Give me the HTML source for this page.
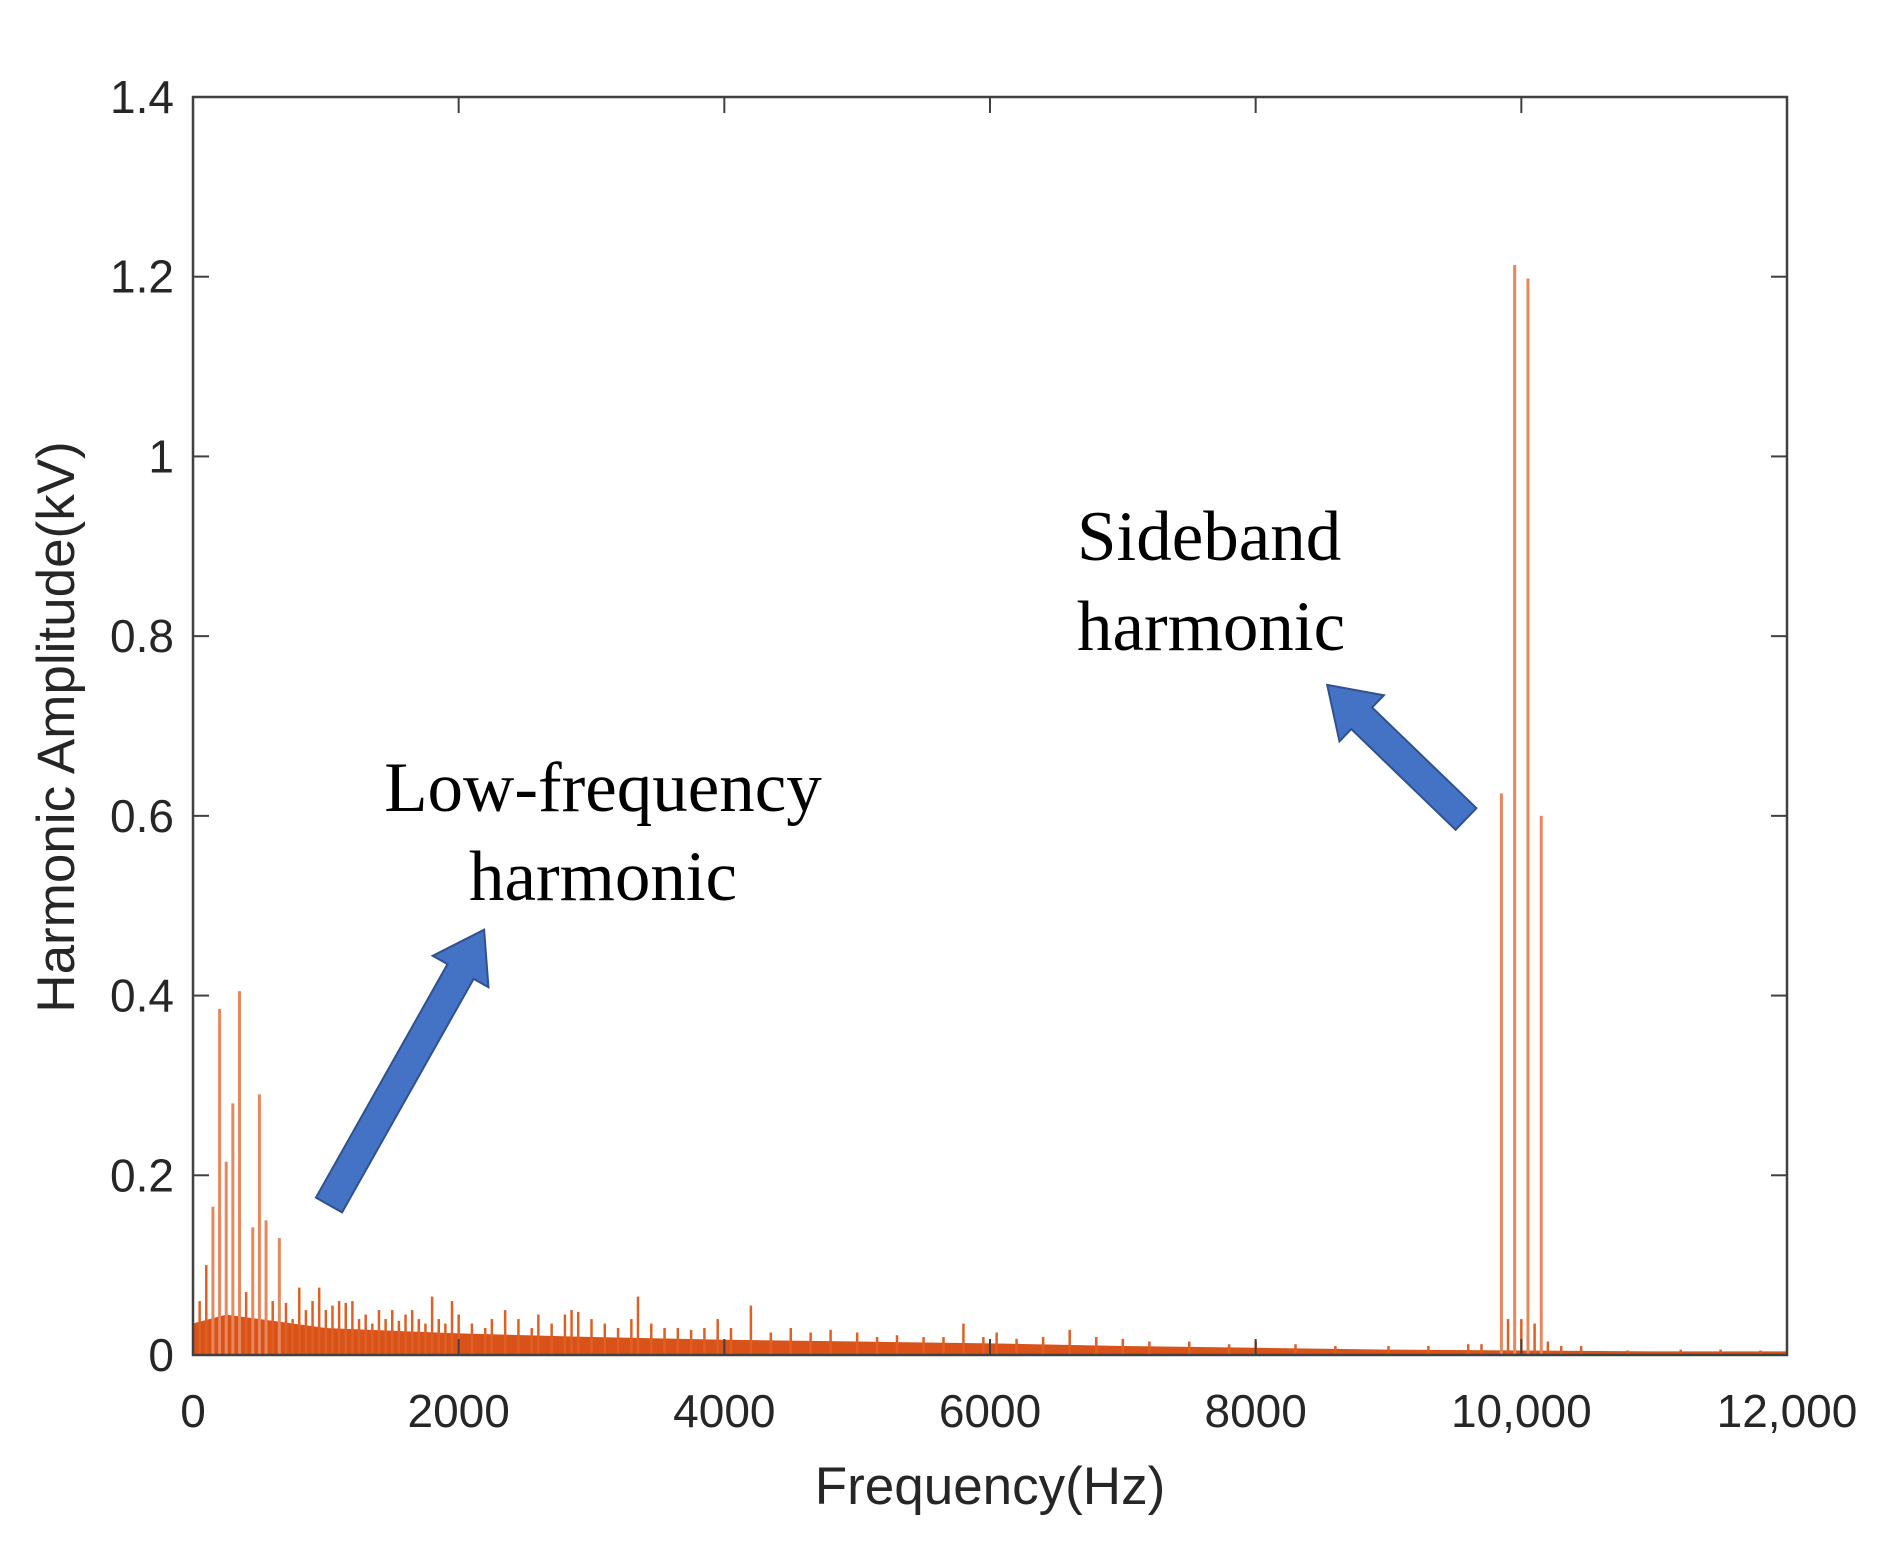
<!DOCTYPE html>
<html><head><meta charset="utf-8"><style>
html,body{margin:0;padding:0;background:#fff;}
svg{display:block;}
</style></head><body>
<svg id="chart" width="1885" height="1549" viewBox="0 0 1885 1549" xmlns="http://www.w3.org/2000/svg">
<rect width="1885" height="1549" fill="#fff"/>
<g id="band"></g>
<g id="spikes"></g>
<g id="axes"></g>
<text x="990" y="1504" font-family="Liberation Sans, sans-serif" font-size="53" fill="#262626" text-anchor="middle">Frequency(Hz)</text>
<text transform="translate(74,727) rotate(-90)" font-family="Liberation Sans, sans-serif" font-size="53" fill="#262626" text-anchor="middle">Harmonic Amplitude(kV)</text>
<g font-family="Liberation Serif, serif" font-size="71" fill="#000">
<text x="603" y="811" text-anchor="middle">Low-frequency</text>
<text x="603" y="900" text-anchor="middle">harmonic</text>
</g>
<g font-family="Liberation Serif, serif" font-size="71" fill="#000">
<text x="1077" y="560">Sideband</text>
<text x="1077" y="650">harmonic</text>
</g>
<g transform="translate(329,1205) rotate(-60.6)">
<polygon points="0,-15 268,-15 268,-32 316,0 268,32 268,15 0,15" fill="#4472c4" stroke="#2f528f" stroke-width="2"/>
</g>
<g transform="translate(1466,819) rotate(-136)">
<polygon points="0,-15 145,-15 145,-32 193,0 145,32 145,15 0,15" fill="#4472c4" stroke="#2f528f" stroke-width="2"/>
</g>
</svg>
<script>
const spikeFreqs = [50,100,150,200,250,300,350,400,450,500,550,600,650,700,750,800,850,900,950,1000,1050,1100,1150,1200,1250,1300,1350,1400,1450,1500,1550,1600,1650,1700,1750,1800,1850,1900,1950,2000,2100,2200,2250,2350,2450,2550,2600,2700,2800,2850,2900,3000,3100,3200,3300,3350,3450,3550,3650,3750,3850,3950,4050,4200,4350,4500,4650,4800,5000,5150,5300,5500,5650,5800,5950,6050,6200,6400,6600,6800,7000,7200,7500,7800,8000,8300,8600,9000,9300,9600,9700,9850,9900,9950,10000,10050,10100,10150,10200,10300,10450,10800,11200,11500,11800];
const spikeAmps = [0.06,0.10,0.165,0.385,0.215,0.28,0.405,0.07,0.142,0.29,0.15,0.06,0.13,0.058,0.04,0.075,0.05,0.06,0.075,0.05,0.055,0.06,0.058,0.06,0.04,0.045,0.035,0.05,0.04,0.05,0.038,0.045,0.05,0.04,0.035,0.065,0.04,0.035,0.06,0.045,0.035,0.03,0.04,0.05,0.04,0.03,0.045,0.035,0.045,0.05,0.048,0.04,0.035,0.03,0.04,0.065,0.035,0.03,0.03,0.028,0.03,0.04,0.03,0.055,0.025,0.03,0.025,0.028,0.025,0.02,0.022,0.02,0.02,0.035,0.02,0.025,0.018,0.02,0.028,0.02,0.018,0.015,0.015,0.012,0.015,0.012,0.01,0.01,0.01,0.012,0.012,0.625,0.04,1.213,0.04,1.198,0.035,0.60,0.015,0.01,0.01,0.005,0.006,0.006,0.005];
const bandFreqs = [0,250,500,1000,1500,2000,3000,4000,5000,6000,7000,8000,9000,10000,11000,12000];
const bandAmps = [0.035,0.045,0.04,0.03,0.027,0.024,0.02,0.017,0.015,0.013,0.01,0.008,0.006,0.005,0.004,0.004];
const xTicks = [0,2000,4000,6000,8000,10000,12000];
const xTickLabels = ["0","2000","4000","6000","8000","10,000","12,000"];
const yTicks = [0,0.2,0.4,0.6,0.8,1,1.2,1.4];
const yTickLabels = ["0","0.2","0.4","0.6","0.8","1","1.2","1.4"];

const L=193,R=1787,T=97,B=1355;
const xs=f=>L+(f/12000)*(R-L);
const ys=v=>B-(v/1.4)*(B-T);
const NS="http://www.w3.org/2000/svg";
function mk(tag,attrs,parent){const e=document.createElementNS(NS,tag);for(const k in attrs)e.setAttribute(k,attrs[k]);parent.appendChild(e);return e;}

const band=document.getElementById('band');
let pts=bandFreqs.map((f,i)=>xs(f)+','+ys(bandAmps[i])).join(' ');
pts+=' '+xs(12000)+','+B+' '+xs(0)+','+B;
const poly=mk('polygon',{points:pts,fill:'#d95319'},band);



const sp=document.getElementById('spikes');
spikeFreqs.forEach((f,i)=>{
  const tall=spikeAmps[i]>0.1;
  const ln=mk('line',{x1:xs(f),x2:xs(f),y1:B,y2:ys(spikeAmps[i]),stroke:tall?'#e8875c':'#df5f25','stroke-width':tall?3:2.5},sp);
  
  
});

const ax=document.getElementById('axes');
const frame=mk('rect',{x:L,y:T,width:R-L,height:B-T,fill:'none',stroke:'#404040','stroke-width':2.5},ax);


xTicks.forEach((t,i)=>{
  const x=xs(t);
  const a=mk('line',{x1:x,x2:x,y1:B,y2:B-16,stroke:'#404040','stroke-width':2},ax);
  
  
  const b=mk('line',{x1:x,x2:x,y1:T,y2:T+16,stroke:'#404040','stroke-width':2},ax);
  
  
  const tx=mk('text',{x:x,y:1427,'font-family':'Liberation Sans, sans-serif','font-size':46,fill:'#262626','text-anchor':'middle'},ax);
  tx.textContent=xTickLabels[i];
  
  
});
yTicks.forEach((t,i)=>{
  const y=ys(t);
  const a=mk('line',{x1:L,x2:L+16,y1:y,y2:y,stroke:'#404040','stroke-width':2},ax);
  
  
  const b=mk('line',{x1:R,x2:R-16,y1:y,y2:y,stroke:'#404040','stroke-width':2},ax);
  
  
  const tx=mk('text',{x:174,y:y+16,'font-family':'Liberation Sans, sans-serif','font-size':46,fill:'#262626','text-anchor':'end'},ax);
  tx.textContent=yTickLabels[i];
  
  
});
</script>
</body></html>
